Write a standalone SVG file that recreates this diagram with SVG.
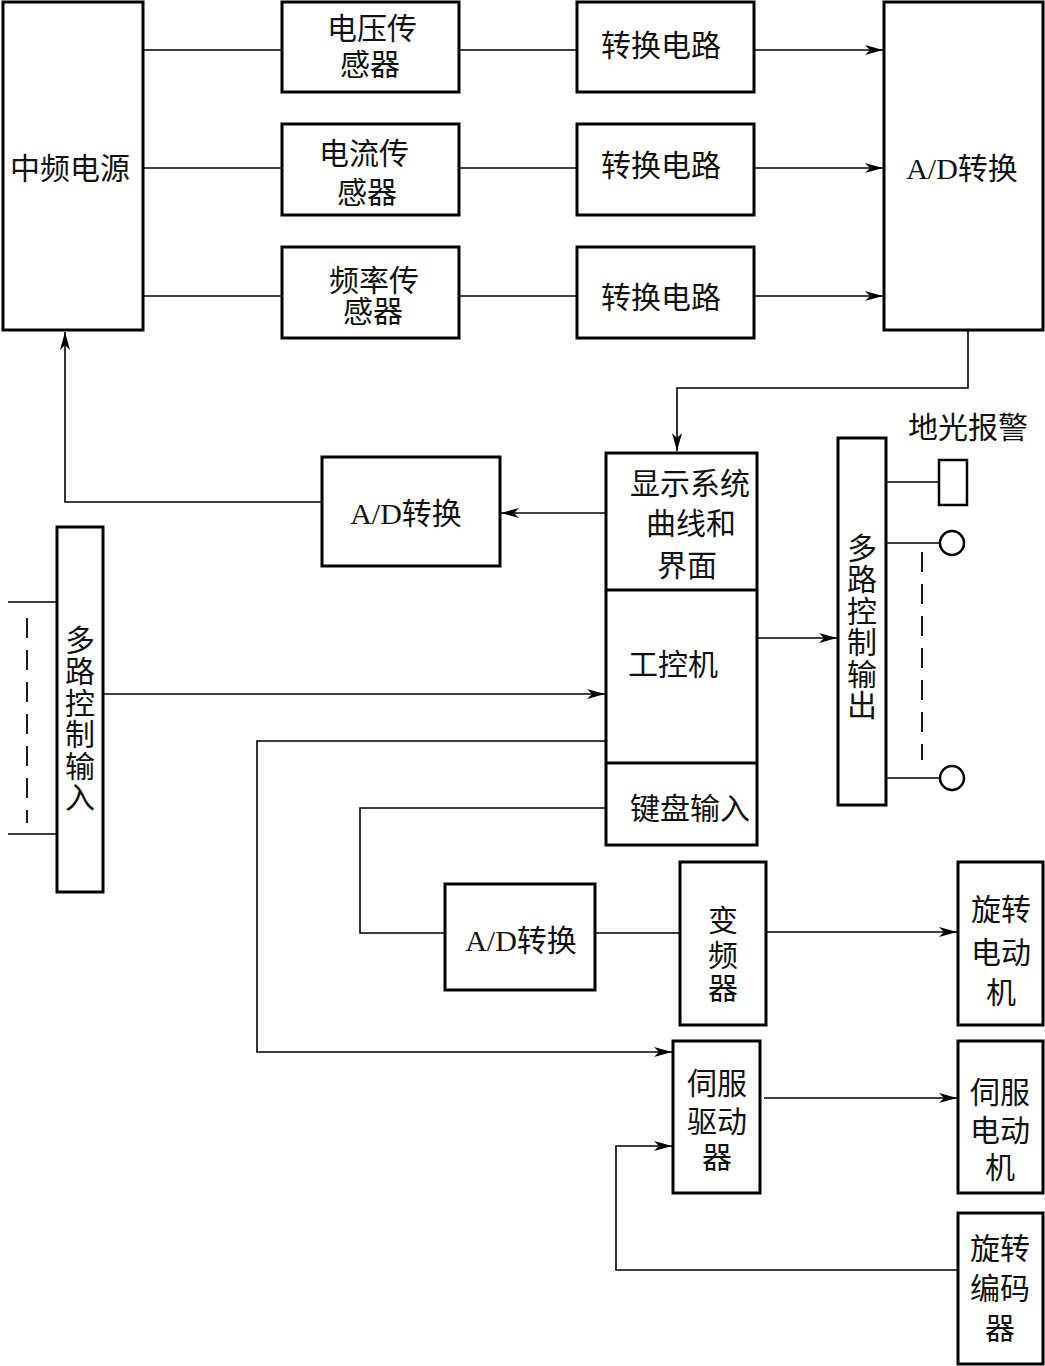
<svg xmlns="http://www.w3.org/2000/svg" width="1045" height="1366" viewBox="0 0 1045 1366">
<style>
.box{fill:#fff;stroke:#000;stroke-width:3}
.ln{fill:none;stroke:#000;stroke-width:1.6}
.ar{marker-end:url(#ah)}
.dash{fill:none;stroke:#000;stroke-width:1.8;stroke-dasharray:20 12}
text{font-family:"Liberation Serif","Noto Sans CJK SC",serif;font-size:30px;fill:#111;text-anchor:middle;dominant-baseline:central}
</style>
<defs>
<marker id="ah" markerUnits="userSpaceOnUse" markerWidth="20" markerHeight="12" refX="18" refY="5" orient="auto">
<path d="M0,0 L18,5 L0,10 L5,5 z" fill="#000"/>
</marker>
</defs>
<rect width="1045" height="1366" fill="#fff"/>
<g id="connectors">
<path class="ln" d="M143,50H282M143,168H282M143,296H282"/>
<path class="ln" d="M459,50H577M459,168H577M459,296H577"/>
<path class="ln ar" d="M754,50H883"/>
<path class="ln ar" d="M754,168H883"/>
<path class="ln ar" d="M754,296H883"/>
<path class="ln ar" d="M968,330V388H677V451"/>
<path class="ln ar" d="M606,513H501"/>
<path class="ln ar" d="M322,502H65V332"/>
<path class="ln ar" d="M103,694H605"/>
<path class="ln ar" d="M757,638H837"/>
<path class="ln" d="M886,482H939M886,543H940M886,778H940"/>
<path class="dash" d="M922,552V760"/>
<path class="ln" d="M8,602H57M8,834H57"/>
<path class="dash" d="M27,618V823"/>
<path class="ln ar" d="M606,741H257V1052H672"/>
<path class="ln" d="M606,808H360V933H445"/>
<path class="ln" d="M595,933H680"/>
<path class="ln ar" d="M766,932H957"/>
<path class="ln ar" d="M764,1098H957"/>
<path class="ln ar" d="M958,1270H616V1146H672"/>
</g>
<g id="power"><rect class="box" x="3" y="2" width="140" height="328"/><text x="70" y="168">中频电源</text></g>
<g id="vsensor"><rect class="box" x="282" y="2" width="177" height="90"/><text x="372" y="28">电压传</text><text x="370" y="64">感器</text></g>
<g id="isensor"><rect class="box" x="282" y="124" width="177" height="91"/><text x="364" y="153">电流传</text><text x="367" y="192">感器</text></g>
<g id="fsensor"><rect class="box" x="282" y="247" width="177" height="91"/><text x="374" y="280">频率传</text><text x="373" y="311">感器</text></g>
<g id="conv1"><rect class="box" x="577" y="2" width="177" height="90"/><text x="661" y="45">转换电路</text></g>
<g id="conv2"><rect class="box" x="577" y="124" width="177" height="91"/><text x="661" y="165">转换电路</text></g>
<g id="conv3"><rect class="box" x="577" y="247" width="177" height="91"/><text x="661" y="297">转换电路</text></g>
<g id="adc1"><rect class="box" x="884" y="2" width="159" height="328"/><text x="962" y="168">A/D转换</text></g>
<g id="adc2"><rect class="box" x="322" y="457" width="178" height="109"/><text x="406" y="513">A/D转换</text></g>
<g id="ipc">
<rect class="box" x="606" y="453" width="151" height="392"/>
<path d="M606,590H757M606,763H757" stroke="#000" stroke-width="3"/>
<text x="690" y="483">显示系统</text><text x="691" y="523">曲线和</text><text x="687" y="565">界面</text>
<text x="673" y="664">工控机</text>
<text x="690" y="808">键盘输入</text>
</g>
<g id="mout"><rect class="box" x="838" y="438" width="48" height="367"/>
<text x="862" y="548">多</text><text x="862" y="579">路</text><text x="862" y="611">控</text><text x="862" y="642">制</text><text x="862" y="674">输</text><text x="862" y="705">出</text></g>
<g id="alarm"><text x="968" y="427">地光报警</text>
<rect x="939" y="460" width="28" height="45" fill="#fff" stroke="#000" stroke-width="2.5"/>
<circle cx="952" cy="543" r="12" fill="#fff" stroke="#000" stroke-width="2.5"/>
<circle cx="952" cy="778" r="12" fill="#fff" stroke="#000" stroke-width="2.5"/></g>
<g id="min"><rect class="box" x="57" y="527" width="46" height="365"/>
<text x="80" y="640">多</text><text x="80" y="671">路</text><text x="80" y="703">控</text><text x="80" y="734">制</text><text x="80" y="766">输</text><text x="80" y="797">入</text></g>
<g id="adc3"><rect class="box" x="445" y="884" width="150" height="106"/><text x="521" y="940">A/D转换</text></g>
<g id="inverter"><rect class="box" x="680" y="862" width="86" height="163"/><text x="723" y="920">变</text><text x="723" y="955">频</text><text x="723" y="988">器</text></g>
<g id="rmotor"><rect class="box" x="958" y="862" width="85" height="163"/><text x="1001" y="909">旋转</text><text x="1001" y="952">电动</text><text x="1001" y="992">机</text></g>
<g id="sdrive"><rect class="box" x="673" y="1041" width="87" height="152"/><text x="717" y="1083">伺服</text><text x="717" y="1121">驱动</text><text x="717" y="1157">器</text></g>
<g id="smotor"><rect class="box" x="958" y="1041" width="85" height="152"/><text x="1000" y="1092">伺服</text><text x="1000" y="1130">电动</text><text x="1000" y="1167">机</text></g>
<g id="encoder"><rect class="box" x="958" y="1213" width="85" height="151"/><text x="1000" y="1248">旋转</text><text x="1000" y="1288">编码</text><text x="1000" y="1328">器</text></g>
</svg>
